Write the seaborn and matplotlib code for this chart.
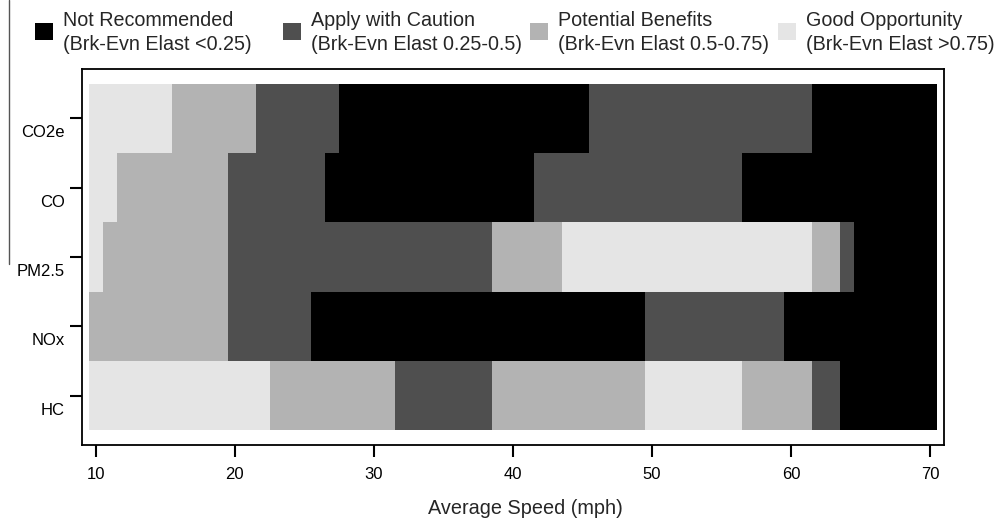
import numpy as np
import pandas as pd
import seaborn as sns
import matplotlib.pyplot as plt
import matplotlib.transforms as mtransforms
from matplotlib.colors import ListedColormap
from matplotlib.patches import Rectangle
from matplotlib.lines import Line2D

speeds = list(range(10, 71))
pollutants = ["CO2e", "CO", "PM2.5", "NOx", "HC"]

# rating runs: (category, last speed of the run)
# 0 = not recommended, 1 = caution, 2 = potential, 3 = good
co2e_runs = [(3, 15), (2, 21), (1, 27), (0, 45), (1, 61), (0, 70)]
co_runs = [(3, 11), (2, 19), (1, 26), (0, 41), (1, 56), (0, 70)]
pm25_runs = [(3, 10), (2, 19), (1, 38), (2, 43), (3, 61), (2, 63), (1, 64), (0, 70)]
nox_runs = [(2, 19), (1, 25), (0, 49), (1, 59), (0, 70)]
hc_runs = [(3, 22), (2, 31), (1, 38), (2, 49), (3, 56), (2, 61), (1, 63), (0, 70)]

categories = [
    "Not Recommended\n(Brk-Evn Elast <0.25)",
    "Apply with Caution\n(Brk-Evn Elast 0.25-0.5)",
    "Potential Benefits\n(Brk-Evn Elast 0.5-0.75)",
    "Good Opportunity\n(Brk-Evn Elast >0.75)",
]
colors = ["#000000", "#4f4f4f", "#b3b3b3", "#e5e5e5"]
xticks = [10, 20, 30, 40, 50, 60, 70]


def expand(runs):
    out = []
    for cat, last in runs:
        out += [cat] * (last - speeds[0] + 1 - len(out))
    return out


all_runs = [co2e_runs, co_runs, pm25_runs, nox_runs, hc_runs]
df = pd.DataFrame([expand(r) for r in all_runs], index=pollutants, columns=speeds)

sns.set_style("white")
plt.rcParams["font.family"] = ["Liberation Sans", "DejaVu Sans"]

W, H = 995, 519
fig = plt.figure(figsize=(W / 100, H / 100), dpi=100)
ax = fig.add_axes([82 / W, 1 - 445 / H, (944 - 82) / W, (445 - 69) / H])

sns.heatmap(df, cmap=ListedColormap(colors), vmin=-0.5, vmax=3.5, cbar=False,
            ax=ax, xticklabels=False, yticklabels=False)

# speed s sits at column s - 10, centre s - 9.5
ax.set_xlim(9 - 9.5, 71 - 9.5)
ax.set_ylim(len(pollutants) + 0.21, -0.21)
ax.set_xticks([s - 9.5 for s in xticks])
ax.set_xticklabels([str(s) for s in xticks])
ax.set_yticks(np.arange(len(pollutants)) + 0.5)
ax.set_yticklabels(pollutants, rotation=0)

for sp in ax.spines.values():
    sp.set_visible(True)
    sp.set_color("black")
    sp.set_linewidth(1.3)

ax.tick_params(axis="both", which="major", length=8.5, width=1.5, color="black",
               labelsize=12, labelcolor="black", left=True, bottom=True)
ax.tick_params(axis="x", pad=7)
ax.tick_params(axis="y", pad=4)

shift = mtransforms.ScaledTranslation(0, -13 / 100, fig.dpi_scale_trans)
for lab in ax.get_yticklabels():
    lab.set_transform(lab.get_transform() + shift)

ax.set_xlabel("Average Speed (mph)", fontsize=14.3)
ax.set_ylabel("")
ax.xaxis.label.set_va("center")
ax.xaxis.set_label_coords((525 - 82) / (944 - 82), (445 - 508) / (445 - 69))

# legend across the top, equally spaced entries
for i, (cat, col) in enumerate(zip(categories, colors)):
    x0 = 35 + 247.7 * i
    fig.add_artist(Rectangle((x0 / W, 1 - 40.3 / H), 18 / W, 17 / H,
                             transform=fig.transFigure, facecolor=col, edgecolor="none"))
    fig.text((x0 + 28) / W, 1 - 11.5 / H, cat, fontsize=14.2, va="top", ha="left",
             linespacing=1.33)

# thin rule at the far left of the original figure
fig.add_artist(Line2D([9 / W, 9 / W], [1, 1 - 264 / H], transform=fig.transFigure,
                      color="#555555", linewidth=1))

fig.savefig("out.png", dpi=100)
